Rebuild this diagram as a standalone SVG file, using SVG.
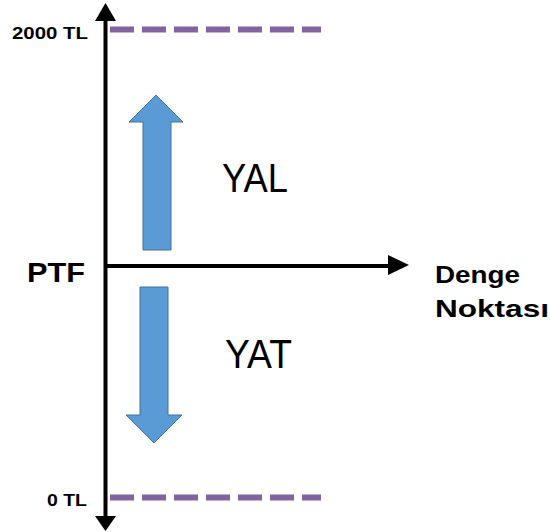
<svg xmlns="http://www.w3.org/2000/svg" width="550" height="532" viewBox="0 0 550 532">
<defs>
<style>
.lbl{font-family:"Liberation Sans",Arial,sans-serif;font-weight:bold;fill:#000}
.big{font-family:"Liberation Sans",Arial,sans-serif;fill:#000}
.dash{stroke:#8064A2;stroke-width:6;stroke-dasharray:24 8;fill:none}
.axis{stroke:#000;stroke-width:4;fill:none}
.barrow{fill:#5B9BD5;stroke:#41719C;stroke-width:1}
</style>
</defs>
<rect width="550" height="532" fill="#fff"/>
<g id="connectors">
<line class="axis" x1="105.5" y1="18" x2="105.5" y2="518"/>
<polygon points="105.5,3 95,21 116,21" fill="#000"/>
<polygon points="105.5,531 95,516 116,516" fill="#000"/>
<line class="axis" x1="105.5" y1="266" x2="392" y2="266"/>
<polygon points="409,265 388,255 388,275" fill="#000"/>
</g>
<g id="limit-top"><line class="dash" x1="110" y1="29.5" x2="321" y2="29.5"/><text class="lbl" x="12" y="39" font-size="17" textLength="76" lengthAdjust="spacingAndGlyphs">2000 TL</text></g>
<g id="limit-bottom"><line class="dash" x1="110" y1="497.5" x2="321" y2="497.5"/><text class="lbl" x="47" y="506" font-size="17" textLength="40" lengthAdjust="spacingAndGlyphs">0 TL</text></g>
<g id="arrow-up"><polygon class="barrow" points="156,95 183,122 171,122 171,250 143,250 143,122 129,122"/></g>
<g id="arrow-down"><polygon class="barrow" points="140,287 168,287 168,415 182,415 154,443 126,415 140,415"/></g>
<g id="ptf"><text class="lbl" x="27" y="282" font-size="28" textLength="58" lengthAdjust="spacingAndGlyphs">PTF</text></g>
<g id="denge"><text class="lbl" font-size="24"><tspan x="435" y="283" textLength="85" lengthAdjust="spacingAndGlyphs">Denge</tspan><tspan x="435" y="317" textLength="114" lengthAdjust="spacingAndGlyphs">Noktası</tspan></text></g>
<g id="yal"><text class="big" x="222" y="192" font-size="40" textLength="66" lengthAdjust="spacingAndGlyphs">YAL</text></g>
<g id="yat"><text class="big" x="225" y="368" font-size="40" textLength="67" lengthAdjust="spacingAndGlyphs">YAT</text></g>
</svg>
